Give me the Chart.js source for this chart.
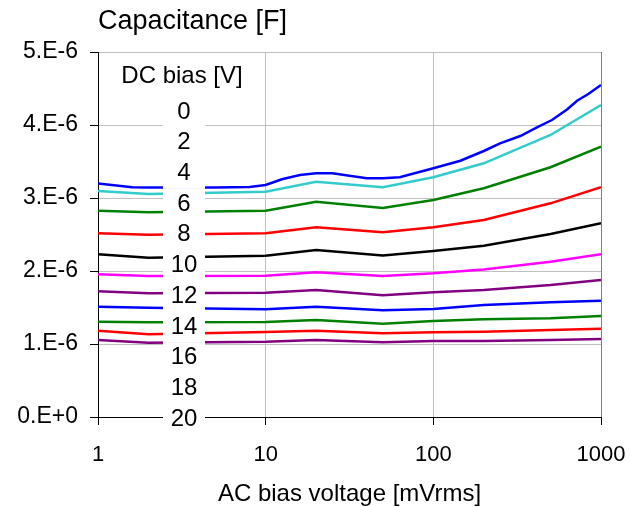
<!DOCTYPE html>
<html>
<head>
<meta charset="utf-8">
<script src="https://cdn.jsdelivr.net/npm/chart.js@4.4.0/dist/chart.umd.min.js"></script>
<style>
  html, body { margin: 0; padding: 0; background: #fff; }
  #capChart { display: block; }
</style>
</head>
<body>
<canvas id="capChart" width="630" height="507"></canvas>
<script>
// AC bias voltage [mVrms] where the capacitance was read
const acVoltage = [1, 2, 10, 20, 50, 100, 200, 500, 1000];
// the 0 V curve was measured on a finer grid
const acVoltageFine = [1, 1.6, 2, 5, 8, 10, 12.5, 16, 20, 25, 40, 50, 63, 100, 145, 200, 250, 330, 415, 510, 630, 720, 840, 1000];

const dcBias = [0, 2, 4, 6, 8, 10, 12, 14, 16, 18, 20];

// capacitance in microfarads, one array per DC bias
const cap0V  = [3.20, 3.147, 3.144, 3.144, 3.15, 3.178, 3.256, 3.315, 3.338, 3.338, 3.27, 3.27, 3.284, 3.407, 3.511, 3.644, 3.749, 3.849, 3.968, 4.068, 4.215, 4.333, 4.425, 4.548];
const cap2V  = [3.096, 3.055, 3.086, 3.223, 3.147, 3.284, 3.475, 3.863, 4.274];
const cap4V  = [2.826, 2.804, 2.826, 2.949, 2.863, 2.973, 3.133, 3.421, 3.703];
const cap6V  = [2.516, 2.497, 2.516, 2.599, 2.530, 2.599, 2.699, 2.927, 3.147];
const cap8V  = [2.229, 2.182, 2.210, 2.288, 2.212, 2.274, 2.347, 2.507, 2.653];
const cap10V = [1.955, 1.932, 1.934, 1.982, 1.932, 1.968, 2.021, 2.127, 2.230];
const cap12V = [1.722, 1.695, 1.703, 1.740, 1.667, 1.708, 1.740, 1.808, 1.877];
const cap14V = [1.511, 1.497, 1.475, 1.511, 1.462, 1.479, 1.534, 1.571, 1.593];
const cap16V = [1.305, 1.297, 1.301, 1.329, 1.278, 1.315, 1.338, 1.352, 1.384];
const cap18V = [1.182, 1.133, 1.164, 1.182, 1.147, 1.160, 1.168, 1.192, 1.210];
const cap20V = [1.055, 1.018, 1.032, 1.055, 1.023, 1.041, 1.041, 1.055, 1.068];

const seriesColors = ['#0000ff', '#33cccc', '#008000', '#ff0000', '#000000', '#ff00ff',
                      '#800080', '#0000ff', '#008000', '#ff0000', '#800080'];

const xTickValues = [1, 10, 100, 1000];
const yTickValues = [0, 1e-6, 2e-6, 3e-6, 4e-6, 5e-6];
const yTickLabels = ['0.E+0', '1.E-6', '2.E-6', '3.E-6', '4.E-6', '5.E-6'];

const yTitle = 'Capacitance [F]';
const xTitle = 'AC bias voltage [mVrms]';
const legendTitle = 'DC bias [V]';

const FONT = '"Liberation Sans", Arial, sans-serif';

const allCaps = [cap0V, cap2V, cap4V, cap6V, cap8V, cap10V, cap12V, cap14V, cap16V, cap18V, cap20V];

const datasets = allCaps.map((caps, i) => {
    const xs = i === 0 ? acVoltageFine : acVoltage;
    return {
        label: dcBias[i] + ' V',
        data: caps.map((c, j) => ({ x: xs[j], y: c * 1e-6 })),
        borderColor: seriesColors[i],
        borderWidth: 2.5,
        pointRadius: 0,
        tension: 0,
        fill: false,
    };
});

// y-axis title above the plot, left aligned with it
const topTitle = {
    id: 'topTitle',
    afterDraw(chart) {
        const ctx = chart.ctx;
        ctx.save();
        ctx.font = '27px ' + FONT;
        ctx.fillStyle = '#000';
        ctx.textAlign = 'left';
        ctx.textBaseline = 'middle';
        ctx.fillText(yTitle, chart.chartArea.left, 22);
        ctx.restore();
    }
};

// DC bias labels stacked inside the plot on white boxes
const biasLegend = {
    id: 'biasLegend',
    afterDatasetsDraw(chart) {
        const ctx = chart.ctx;
        const cx = chart.chartArea.left + 86;
        ctx.save();
        ctx.font = '24px ' + FONT;
        ctx.textAlign = 'center';
        ctx.textBaseline = 'middle';
        ctx.fillStyle = '#000';
        ctx.fillText(legendTitle, cx - 2, 76);
        dcBias.forEach((v, i) => {
            const y = 112 + i * 30.7;
            ctx.fillStyle = '#fff';
            ctx.fillRect(cx - 21, y - 15.5, 42, 31);
            ctx.fillStyle = '#000';
            ctx.fillText(String(v), cx, y);
        });
        ctx.restore();
    }
};

new Chart(document.getElementById('capChart').getContext('2d'), {
    type: 'line',
    data: { datasets },
    options: {
        responsive: false,
        animation: false,
        devicePixelRatio: 1,
        layout: { padding: { top: 52, right: 29, left: 0, bottom: 0 } },
        plugins: {
            legend: { display: false },
            tooltip: { enabled: false },
        },
        scales: {
            x: {
                type: 'logarithmic',
                min: 1,
                max: 1000,
                afterBuildTicks: (scale) => { scale.ticks = xTickValues.map(v => ({ value: v })); },
                afterFit: (scale) => {
                    scale.height = 90;
                    scale.paddingLeft = 0;
                    scale.paddingRight = 0;
                },
                ticks: {
                    color: '#000',
                    font: { family: FONT, size: 22 },
                    padding: 17,
                    maxRotation: 0,
                    callback: (v) => String(v),
                },
                grid: {
                    color: (c) => c.tick && c.tick.value === 1 ? '#000' : (c.tick && c.tick.value === 1000 ? '#808080' : '#c0c0c0'),
                    tickColor: '#000',
                    tickLength: 8,
                },
                border: { color: '#000' },
                title: {
                    display: true,
                    text: xTitle,
                    color: '#000',
                    font: { family: FONT, size: 24 },
                    padding: { top: 0, bottom: -2 },
                },
            },
            y: {
                min: 0,
                max: 5e-6,
                afterBuildTicks: (scale) => { scale.ticks = yTickValues.map(v => ({ value: v })); },
                afterFit: (scale) => {
                    scale.width = 98;
                    scale.paddingTop = 0;
                    scale.paddingBottom = 0;
                },
                ticks: {
                    color: '#000',
                    font: { family: FONT, size: 23 },
                    padding: 12,
                    callback: (v, i) => yTickLabels[i],
                },
                grid: {
                    color: (c) => c.tick && c.tick.value === 0 ? '#000' : '#c0c0c0',
                    tickColor: '#000',
                    tickLength: 8,
                },
                border: { color: '#000' },
            },
        },
    },
    plugins: [topTitle, biasLegend],
});
</script>
</body>
</html>
